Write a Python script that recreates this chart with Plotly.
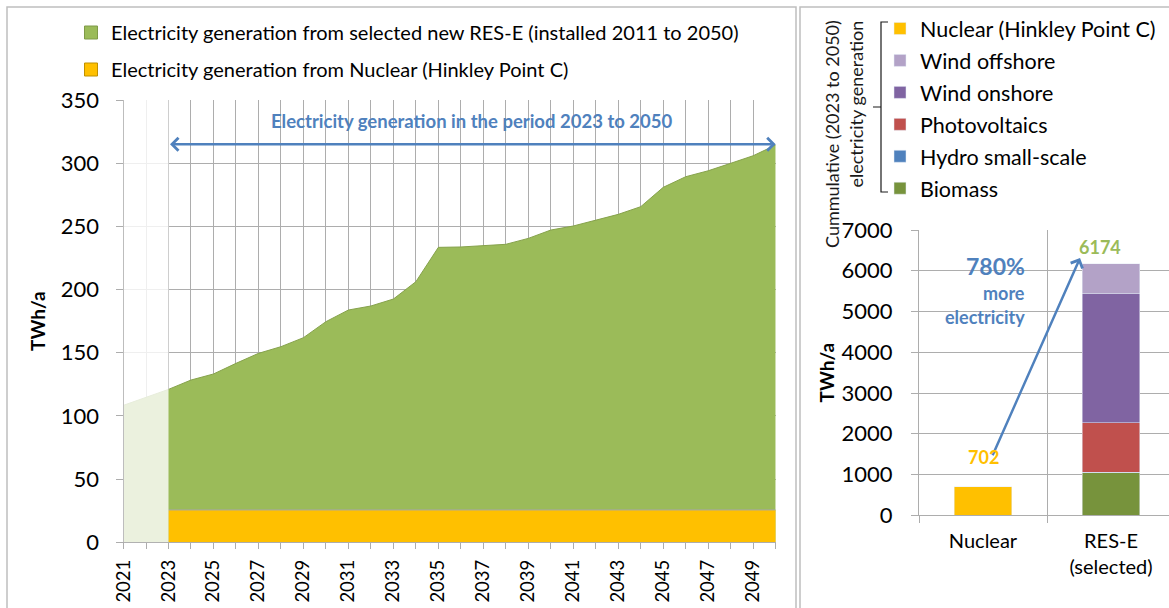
import plotly.graph_objects as go

W, H = 1169, 608

# ---------------- data ----------------
years = [2021, 2022, 2023, 2024, 2025, 2026, 2027, 2028, 2029, 2030,
         2031, 2032, 2033, 2034, 2035, 2036, 2037, 2038, 2039, 2040,
         2041, 2042, 2043, 2044, 2045, 2046, 2047, 2048, 2049, 2050]
res_e_generation = [108.4, 115.0, 121.0, 128.4, 133.2, 141.6, 149.5, 154.8, 161.9, 174.6,
                    183.8, 187.0, 192.5, 206.2, 233.4, 233.7, 234.5, 235.8, 240.5, 247.1,
                    250.3, 255.0, 259.5, 265.6, 280.9, 289.3, 294.0, 299.9, 305.9, 314.4]
nuclear_years = [2023, 2024, 2025, 2026, 2027, 2028, 2029, 2030, 2031, 2032,
                 2033, 2034, 2035, 2036, 2037, 2038, 2039, 2040, 2041, 2042,
                 2043, 2044, 2045, 2046, 2047, 2048, 2049, 2050]
nuclear_generation = [25.6, 25.6, 25.6, 25.6, 25.6, 25.6, 25.6, 25.6, 25.6, 25.6,
                      25.6, 25.6, 25.6, 25.6, 25.6, 25.6, 25.6, 25.6, 25.6, 25.6,
                      25.6, 25.6, 25.6, 25.6, 25.6, 25.6, 25.6, 25.6]
period_start, period_end = 2023, 2050
period_arrow_level = 315

bar_categories = ["Nuclear", "RES-E<br>(selected)"]
nuclear_total = 702
res_sources = ["Biomass", "Hydro small-scale", "Photovoltaics", "Wind onshore", "Wind offshore"]
res_values = [1040, 20, 1215, 3175, 724]
res_colors = ["#77933C", "#4F81BD", "#C0504D", "#8064A2", "#B3A2C7"]
res_total = sum(res_values)

legend_left = ["Electricity generation from selected new RES-E (installed 2011 to 2050)",
               "Electricity generation from Nuclear (Hinkley Point C)"]

GREEN = "#9BBB59"
ORANGE = "#FFC000"
BLUE = "#4F81BD"
GRID = "#ADADAD"
FRAME = "#BFBFBF"
FONT = "Lato"
TXT = "#1A1A1A"


def px(x):
    return x / W


def py(y):
    return 1 - y / H


fig = go.Figure()

# ---------------- left chart ----------------
fig.add_trace(go.Scatter(x=years, y=res_e_generation, mode="lines", fill="tozeroy",
                         fillcolor=GREEN, line=dict(color="#86A24C", width=1),
                         showlegend=False, hoverinfo="x+y", xaxis="x", yaxis="y"))
fig.add_trace(go.Scatter(x=nuclear_years, y=nuclear_generation, mode="lines", fill="tozeroy",
                         fillcolor=ORANGE, line=dict(color="#A6A6A6", width=1),
                         showlegend=False, hoverinfo="x+y", xaxis="x", yaxis="y"))
# legend entries (square symbols)
for name, col, lc, grp in [(legend_left[0], GREEN, "#7F9A48", "l1"),
                           (legend_left[1], ORANGE, "#BF9000", "l2")]:
    fig.add_trace(go.Scatter(x=[None], y=[None], mode="markers", name=name,
                             marker=dict(symbol="square", size=13, color=col,
                                         line=dict(color=lc, width=1)),
                             legend="legend", legendgroup=grp, xaxis="x", yaxis="y"))

# ---------------- right chart ----------------
for i, (s, v, c) in enumerate(zip(res_sources, res_values, res_colors)):
    fig.add_trace(go.Bar(x=[bar_categories[1]], y=[v], name=s, marker=dict(color=c),
                         width=0.45, xaxis="x2", yaxis="y2", legend="legend2",
                         legendgroup=s, legendrank=100 - i))
fig.add_trace(go.Bar(x=[bar_categories[0]], y=[nuclear_total], name="Nuclear (Hinkley Point C)",
                     marker=dict(color=ORANGE), width=0.45, xaxis="x2", yaxis="y2",
                     legend="legend2", legendgroup="nuc", legendrank=1))

annotations = [
    dict(x=period_end, y=period_arrow_level, ax=period_start, ay=period_arrow_level,
         xref="x", yref="y", axref="x", ayref="y", text="", showarrow=True,
         arrowhead=4, startarrowhead=4, arrowside="end+start", arrowwidth=2.5,
         arrowsize=1, startarrowsize=1, arrowcolor=BLUE, standoff=0, startstandoff=0),
    dict(x=(period_start + period_end) / 2, y=333, xref="x", yref="y",
         text="<b>Electricity generation in the period %d to %d</b>" % (period_start, period_end),
         showarrow=False, font=dict(size=18.5, color=BLUE, family=FONT)),
    dict(x=0.758, y=6313, ax=0.07, ay=1436, xref="x2", yref="y2", axref="x2", ayref="y2",
         text="", showarrow=True, arrowhead=4, arrowwidth=2.5, arrowsize=1,
         arrowcolor=BLUE, standoff=0),
    dict(x=0, y=1436, xref="x2", yref="y2", text="<b>%d</b>" % nuclear_total, showarrow=False,
         font=dict(size=18, color=ORANGE, family=FONT)),
    dict(x=0.914, y=6584, xref="x2", yref="y2", text="<b>%d</b>" % res_total, showarrow=False,
         font=dict(size=18, color=GREEN, family=FONT)),
    dict(x=0.344, y=6116, xref="x2", yref="y2", text="<b>780%</b>", showarrow=False,
         xanchor="right", font=dict(size=23, color=BLUE, family=FONT)),
    dict(x=0.344, y=5453, xref="x2", yref="y2", text="<b>more</b>", showarrow=False,
         xanchor="right", font=dict(size=18, color=BLUE, family=FONT)),
    dict(x=0.344, y=4862, xref="x2", yref="y2", text="<b>electricity</b>", showarrow=False,
         xanchor="right", font=dict(size=18, color=BLUE, family=FONT)),
    dict(x=px(832), y=py(18), xref="paper", yref="paper", text="Cummulative (2023 to 2050)",
         textangle=-90, showarrow=False, xanchor="center", yanchor="top",
         font=dict(size=18, color=TXT, family=FONT)),
    dict(x=px(855), y=py(19), xref="paper", yref="paper", text="electricity generation",
         textangle=-90, showarrow=False, xanchor="center", yanchor="top",
         font=dict(size=18, color=TXT, family=FONT)),
]

brace = "M %f,%f L %f,%f L %f,%f L %f,%f M %f,%f L %f,%f" % (
    px(888), py(22), px(881), py(22), px(881), py(192), px(888), py(192),
    px(881), py(107), px(873), py(107))

shapes = [
    # fade of the years before the period
    dict(type="rect", xref="x", yref="y", x0=2021, x1=period_start, y0=0, y1=350,
         fillcolor="rgba(255,255,255,0.8)", line=dict(width=0), layer="above"),
    dict(type="rect", xref="paper", yref="paper", x0=px(7), x1=px(796), y0=py(660), y1=py(7),
         line=dict(color=FRAME, width=1.5), fillcolor="rgba(0,0,0,0)", layer="below"),
    dict(type="rect", xref="paper", yref="paper", x0=px(800), x1=px(1200), y0=py(660), y1=py(7),
         line=dict(color=FRAME, width=1.5), fillcolor="rgba(0,0,0,0)", layer="below"),
    dict(type="path", xref="paper", yref="paper", path=brace,
         line=dict(color=TXT, width=1.2)),
]

fig.update_layout(
    width=W, height=H, autosize=False,
    margin=dict(l=0, r=0, t=0, b=0, autoexpand=False),
    paper_bgcolor="white", plot_bgcolor="white",
    font=dict(family=FONT, color="#000000", size=18),
    barmode="stack",
    showlegend=True,
    xaxis=dict(domain=[px(123.5), px(775.7)], range=[2020.999, 2050.001],
               tick0=2021, dtick=2, tickangle=-90, showgrid=True, gridcolor=GRID,
               ticks="outside", ticklen=6, tickcolor=GRID, showline=True, linecolor=GRID,
               zeroline=False, ticklabelstandoff=3, tickfont=dict(size=18.5),
               minor=dict(dtick=1, tick0=2021, showgrid=True, gridcolor=GRID,
                          ticks="outside", ticklen=6, tickcolor=GRID),
               anchor="y", automargin=False),
    yaxis=dict(domain=[1 - 542.3 / H, 1 - 100 / H], range=[0, 350], dtick=50,
               showgrid=True, gridcolor=GRID, ticks="outside", ticklen=7, tickcolor=GRID,
               showline=True, linecolor=GRID, zeroline=False, ticklabelstandoff=12,
               tickfont=dict(size=22),
               title=dict(text="<b>TWh/a</b>", font=dict(size=19), standoff=10),
               anchor="x", automargin=False),
    xaxis2=dict(domain=[px(919), 1], type="category", categoryorder="array",
                categoryarray=bar_categories, range=[-0.5, -0.5 + 250 / 128],
                tickson="boundaries", showgrid=True, gridcolor=GRID, ticks="outside",
                ticklen=7, tickcolor=GRID, showline=True, linecolor=GRID,
                ticklabelstandoff=8, tickfont=dict(size=20), anchor="y2", automargin=False),
    yaxis2=dict(domain=[1 - 515.3 / H, 1 - 230 / H], range=[0, 7000], dtick=1000,
                showgrid=True, gridcolor=GRID, ticks="outside", ticklen=7, tickcolor=GRID,
                showline=True, linecolor=GRID, zeroline=False, ticklabelstandoff=14,
                tickfont=dict(size=22),
                title=dict(text="<b>TWh/a</b>", font=dict(size=19), standoff=1),
                anchor="x2", automargin=False),
    legend=dict(x=px(71), y=py(13), xanchor="left", yanchor="top", traceorder="grouped",
                tracegroupgap=8, font=dict(size=20), bgcolor="rgba(0,0,0,0)"),
    legend2=dict(x=px(880), y=py(8), xanchor="left", yanchor="top",
                 traceorder="grouped", tracegroupgap=1, font=dict(size=21.5),
                 bgcolor="rgba(0,0,0,0)"),
    annotations=annotations,
    shapes=shapes,
)

fig.write_html("out.html", config={"displayModeBar": False},
               post_script="document.body.style.margin='0px';"
                           "document.body.style.overflow='hidden';")
